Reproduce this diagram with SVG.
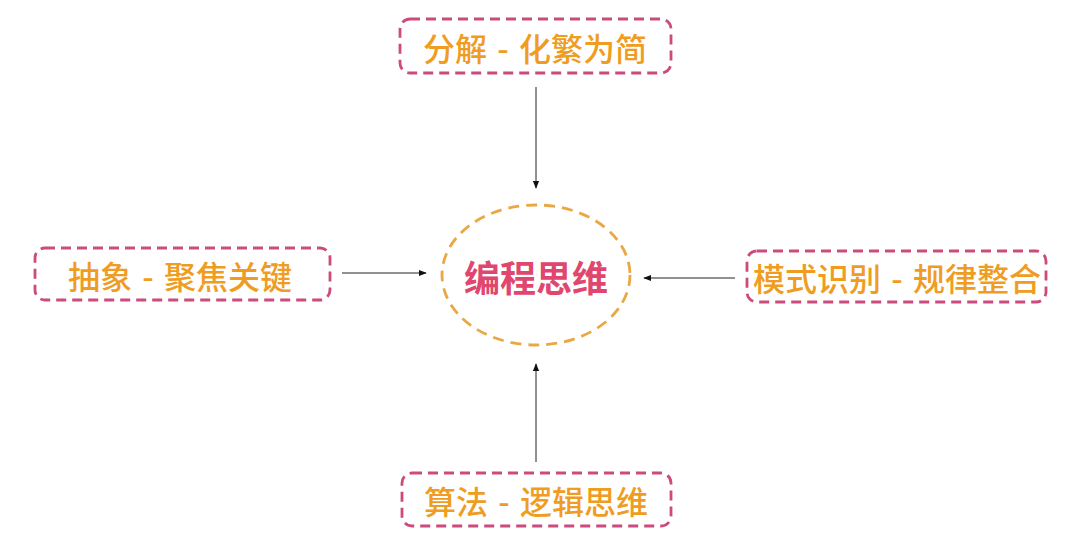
<svg xmlns="http://www.w3.org/2000/svg" width="1080" height="544" viewBox="0 0 1080 544">
<defs>
<marker id="ah" viewBox="0 0 10 10" refX="9" refY="5" markerWidth="8" markerHeight="8" orient="auto" markerUnits="userSpaceOnUse">
<path d="M0,1 L10,5 L0,9 Z" fill="#111"/>
</marker>
</defs>
<style>
.box{fill:#fff;stroke:#cc4a7c;stroke-width:2.8;stroke-dasharray:10 6}
.lbl{font-family:"Noto Sans CJK SC","Noto Sans",sans-serif;font-size:32px;font-weight:500;fill:#ef9d22;text-anchor:middle;dominant-baseline:central;word-spacing:3px}
.ctr{font-family:"Noto Sans CJK SC","Noto Sans",sans-serif;font-size:36px;font-weight:bold;fill:#e0466e;text-anchor:middle;dominant-baseline:central}
.ell{fill:#fff;stroke:#e9a843;stroke-width:2.8;stroke-dasharray:11 7}
.con{stroke:#222;stroke-width:1;fill:none;marker-end:url(#ah)}
</style>
<rect width="1080" height="544" fill="#fff"/>
<g id="connectors">
<line class="con" x1="536" y1="87" x2="536" y2="188"/>
<line class="con" x1="342" y1="273" x2="426" y2="273"/>
<line class="con" x1="735" y1="278" x2="644" y2="278"/>
<line class="con" x1="536" y1="462" x2="536" y2="364"/>
</g>
<g id="center">
<ellipse class="ell" cx="536" cy="275" rx="94" ry="70"/>
<text class="ctr" x="536" y="276">编程思维</text>
</g>
<g id="top">
<rect class="box" x="400" y="19" width="271" height="54" rx="10"/>
<text class="lbl" x="535" y="47">分解 - 化繁为简</text>
</g>
<g id="left">
<rect class="box" x="35" y="248" width="295" height="52" rx="10"/>
<text class="lbl" x="180" y="275">抽象 - 聚焦关键</text>
</g>
<g id="right">
<rect class="box" x="747" y="251" width="299" height="51" rx="10"/>
<text class="lbl" x="897" y="277">模式识别 - 规律整合</text>
</g>
<g id="bottom">
<rect class="box" x="402" y="473" width="269" height="53" rx="10"/>
<text class="lbl" x="536" y="500">算法 - 逻辑思维</text>
</g>
</svg>
